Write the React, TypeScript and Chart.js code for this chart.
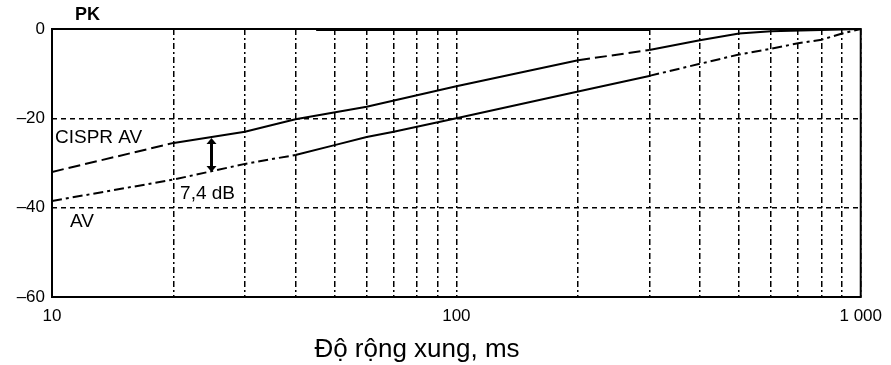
import { useEffect, useRef } from "react";
import { Chart, registerables } from "chart.js";

Chart.register(...registerables);

// ---- data ----
const X_TICKS = [10, 20, 30, 40, 50, 60, 70, 80, 90, 100, 200, 300, 400, 500, 600, 700, 800, 900, 1000];
const X_TICK_LABELS: Record<number, string> = { 10: "10", 100: "100", 1000: "1 000" };
const Y_TICKS = [0, -20, -40, -60];
const Y_TICK_LABELS: Record<number, string> = { 0: "0", [-20]: "–20", [-40]: "–40", [-60]: "–60" };

const CISPR_X = [10, 20, 30, 40, 60, 100, 200, 300, 400, 500, 600, 1000];
const CISPR_Y = [-32, -25.5, -23, -20.2, -17.4, -12.8, -7, -4.7, -2.5, -1, -0.5, 0];

const AV_X = [10, 20, 30, 40, 50, 60, 70, 100, 200, 300, 400, 500, 600, 700, 800, 900, 1000];
const AV_Y = [-38.5, -33.7, -30.2, -28.2, -26, -24.2, -23, -20, -14, -10.5, -7.8, -5.7, -4.4, -3.2, -2.4, -1, 0];

const PK_X = [45, 300];
const PK_Y = [0, 0];

const GAP_X = 24.8;
const GAP_TOP = -24.4;
const GAP_BOTTOM = -32;
const GAP_TEXT = "7,4 dB";

const LABEL_TEXTS = ["PK", "CISPR AV", "AV", GAP_TEXT];
const LABEL_X = [11.4, 10.17, 11.08, 24.25];
const LABEL_Y = [3.1, -24.4, -43.2, -36.9];

const AXIS_TITLE = "Độ rộng xung, ms";

const FONT = "'Liberation Sans', Arial, sans-serif";

const overlay = {
  id: "overlay",
  afterDraw(chart: any) {
    const { ctx, chartArea, scales } = chart;
    const xs = scales.x;
    const ys = scales.y;
    ctx.save();
    // frame
    ctx.setLineDash([]);
    ctx.strokeStyle = "#000";
    ctx.lineWidth = 2;
    ctx.strokeRect(chartArea.left, chartArea.top, chartArea.right - chartArea.left, chartArea.bottom - chartArea.top);

    // gap arrow
    const ax = xs.getPixelForValue(GAP_X);
    const ay1 = ys.getPixelForValue(GAP_TOP);
    const ay2 = ys.getPixelForValue(GAP_BOTTOM);
    ctx.lineWidth = 3;
    ctx.beginPath();
    ctx.moveTo(ax, ay1 + 2);
    ctx.lineTo(ax, ay2 - 2);
    ctx.stroke();
    ctx.fillStyle = "#000";
    ctx.beginPath();
    ctx.moveTo(ax - 5, ay1 + 6);
    ctx.lineTo(ax + 5, ay1 + 6);
    ctx.lineTo(ax, ay1);
    ctx.closePath();
    ctx.fill();
    ctx.beginPath();
    ctx.moveTo(ax - 5, ay2 - 6);
    ctx.lineTo(ax + 5, ay2 - 6);
    ctx.lineTo(ax, ay2);
    ctx.closePath();
    ctx.fill();

    // labels
    ctx.textBaseline = "middle";
    LABEL_TEXTS.forEach((t, i) => {
      const px = xs.getPixelForValue(LABEL_X[i]);
      const py = ys.getPixelForValue(LABEL_Y[i]);
      if (t === "PK") {
        ctx.font = `bold 18px ${FONT}`;
      } else {
        ctx.font = `19px ${FONT}`;
      }
      ctx.textAlign = t === GAP_TEXT ? "center" : "left";
      ctx.fillText(t, px, py);
    });

    // axis title
    ctx.font = `26px ${FONT}`;
    ctx.textAlign = "center";
    ctx.textBaseline = "alphabetic";
    ctx.fillText(AXIS_TITLE, 417, 357);
    ctx.restore();
  },
};

export default function App() {
  const ref = useRef<HTMLCanvasElement>(null);

  useEffect(() => {
    if (!ref.current) return;
    const chart = new Chart(ref.current, {
      type: "line",
      data: {
        datasets: [
          {
            label: "PK",
            data: PK_X.map((x, i) => ({ x, y: PK_Y[i] })),
            borderColor: "#000",
            borderWidth: 4,
            pointRadius: 0,
            tension: 0,
          },
          {
            label: "CISPR AV",
            data: CISPR_X.map((x, i) => ({ x, y: CISPR_Y[i] })),
            borderColor: "#000",
            borderWidth: 2,
            pointRadius: 0,
            tension: 0,
            segment: {
              borderDash: (c: any) => {
                const x0 = c.p0.parsed.x;
                return x0 < 20 || (x0 >= 200 && x0 < 300) ? [12, 5] : undefined;
              },
            },
          },
          {
            label: "AV",
            data: AV_X.map((x, i) => ({ x, y: AV_Y[i] })),
            borderColor: "#000",
            borderWidth: 2,
            pointRadius: 0,
            tension: 0,
            borderDash: [10, 4, 3, 4],
            segment: {
              borderDash: (c: any) => {
                const x0 = c.p0.parsed.x;
                return x0 >= 40 && x0 < 300 ? [] : [10, 4, 3, 4];
              },
            },
          },
        ],
      },
      options: {
        animation: false,
        responsive: false,
        maintainAspectRatio: false,
        layout: { padding: { top: 29, right: 28, left: 0, bottom: 0 } },
        plugins: { legend: { display: false }, tooltip: { enabled: false } },
        scales: {
          x: {
            type: "logarithmic",
            min: 10,
            max: 1000,
            afterBuildTicks: (s: any) => {
              s.ticks = X_TICKS.map((v) => ({ value: v }));
            },
            afterFit: (s: any) => {
              s.height = 68;
            },
            ticks: {
              autoSkip: false,
              maxRotation: 0,
              padding: 9,
              color: "#000",
              font: { family: FONT, size: 17 },
              callback: (v: any) => X_TICK_LABELS[Number(v)] ?? "",
            },
            grid: { color: "#000", lineWidth: 1.5, drawTicks: false },
            border: { display: false, dash: [6, 3, 2, 3] },
          },
          y: {
            type: "linear",
            min: -60,
            max: 0,
            afterBuildTicks: (s: any) => {
              s.ticks = Y_TICKS.map((v) => ({ value: v }));
            },
            afterFit: (s: any) => {
              s.width = 52;
            },
            ticks: {
              padding: 7,
              color: "#000",
              font: { family: FONT, size: 17 },
              callback: (v: any) => Y_TICK_LABELS[Number(v)] ?? "",
            },
            grid: { color: "#000", lineWidth: 1.5, drawTicks: false },
            border: { display: false, dash: [5, 4] },
          },
        },
      },
      plugins: [overlay],
    });
    return () => chart.destroy();
  }, []);

  return (
    <div style={{ position: "fixed", left: 0, top: 0, width: 891, height: 365, background: "#fff" }}>
      <canvas ref={ref} width={891} height={365} style={{ width: 891, height: 365, display: "block" }} />
    </div>
  );
}
